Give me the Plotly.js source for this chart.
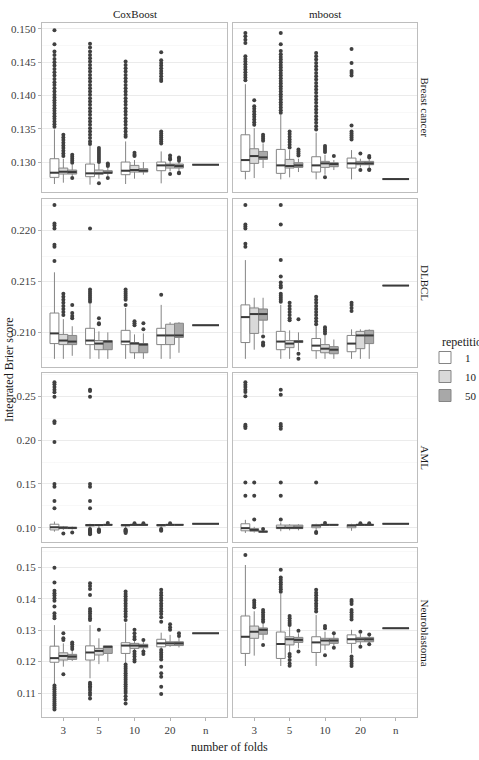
<!DOCTYPE html>
<html>
<head>
<meta charset="utf-8">
<script src="https://cdn.plot.ly/plotly-3.0.1.min.js"></script>
<style>html,body{margin:0;padding:0;background:#fff;}#chart{width:479px;height:760px;}</style>
</head>
<body>
<div id="chart"></div>
<script>
const categories = ['3', '5', '10', '20', 'n'];
const repetitions = ['1', '10', '50'];
const datasets = ['Breast cancer', 'DLBCL', 'AML', 'Neuroblastoma'];
const methods = ['CoxBoost', 'mboost'];

// Each row: [lower whisker, q1, median, q3, upper whisker]
// Order: 3/rep1, 3/rep10, 3/rep50, 5/rep1, ..., 20/rep50, n
const bcCoxStats = [
  [0.1267, 0.1277, 0.1284, 0.1305, 0.1349], [0.1269, 0.1282, 0.12855, 0.1291, 0.1305], [0.1279, 0.1282, 0.1285, 0.1288, 0.1296],
  [0.1266, 0.1278, 0.1283, 0.1297, 0.1324], [0.1275, 0.1282, 0.1283, 0.1288, 0.1297], [0.1279, 0.1283, 0.1284, 0.1287, 0.1291],
  [0.1267, 0.1281, 0.1287, 0.1300, 0.1331], [0.1275, 0.1285, 0.1288, 0.1295, 0.1303], [0.1281, 0.1285, 0.1287, 0.1290, 0.1300],
  [0.1268, 0.1287, 0.1295, 0.1300, 0.1316], [0.1286, 0.1291, 0.1295, 0.1297, 0.1301], [0.1286, 0.1291, 0.1294, 0.1297, 0.1300],
  [0.1296, 0.1296, 0.1296, 0.1296, 0.1296]
];
const bcCoxOut = [
  [0.1498, 0.1477, 0.1466, 0.1461, 0.1455, 0.1450, 0.1445, 0.1440, 0.1435, 0.1430, 0.1425, 0.1420, 0.1416, 0.1411, 0.1406, 0.1401, 0.1397, 0.1393, 0.1389, 0.1385, 0.1381, 0.1377, 0.1373, 0.1369, 0.1365, 0.1361, 0.1357, 0.1353],
  [0.1341, 0.1337, 0.1333, 0.1329, 0.1325, 0.1321, 0.1317, 0.1313, 0.1309],
  [0.1311, 0.1308, 0.1305, 0.1302, 0.1299, 0.1276],
  [0.1478, 0.1472, 0.1466, 0.1461, 0.1456, 0.1451, 0.1446, 0.1441, 0.1436, 0.1431, 0.1426, 0.1421, 0.1416, 0.1411, 0.1406, 0.1401, 0.1396, 0.1391, 0.1386, 0.1381, 0.1376, 0.1371, 0.1366, 0.1361, 0.1356, 0.1351, 0.1346, 0.1341, 0.1336, 0.1331, 0.1327],
  [0.1321, 0.1318, 0.1315, 0.1312, 0.1309, 0.1306, 0.1303, 0.1300, 0.1268],
  [0.1298, 0.1296, 0.1294, 0.1276],
  [0.1451, 0.1446, 0.1441, 0.1436, 0.1431, 0.1426, 0.1421, 0.1416, 0.1411, 0.1406, 0.1401, 0.1396, 0.1391, 0.1386, 0.1381, 0.1376, 0.1371, 0.1366, 0.1361, 0.1356, 0.1351, 0.1346, 0.1341, 0.1338],
  [0.1314, 0.1311, 0.1309],
  [],
  [0.1465, 0.1453, 0.1449, 0.1445, 0.1441, 0.1437, 0.1433, 0.1429, 0.1425, 0.1422, 0.1346, 0.1343, 0.1340, 0.1337, 0.1334, 0.1331, 0.1328],
  [0.1310, 0.1306, 0.1304, 0.1282],
  [0.1307, 0.1305, 0.1302, 0.1284, 0.1283],
  []
];

const bcMbStats = [
  [0.1274, 0.1286, 0.1303, 0.1341, 0.1417], [0.1276, 0.1298, 0.1309, 0.1320, 0.1351], [0.1291, 0.1304, 0.1307, 0.1316, 0.1328],
  [0.1274, 0.1283, 0.1295, 0.1319, 0.1371], [0.1277, 0.1291, 0.1294, 0.1304, 0.1318], [0.1285, 0.1292, 0.1295, 0.1299, 0.1305],
  [0.1274, 0.1285, 0.1295, 0.1308, 0.1344], [0.1281, 0.1292, 0.1298, 0.1301, 0.1311], [0.1288, 0.1293, 0.1297, 0.1299, 0.1303],
  [0.1274, 0.1291, 0.1298, 0.1306, 0.1318], [0.1292, 0.1296, 0.1298, 0.1301, 0.1305], [0.1291, 0.1296, 0.1298, 0.1301, 0.1304],
  [0.12744, 0.12744, 0.12744, 0.12744, 0.12744]
];
const bcMbOut = [
  [0.1494, 0.1489, 0.1484, 0.1479, 0.1459, 0.1455, 0.1451, 0.1447, 0.1443, 0.1439, 0.1435, 0.1431, 0.1427, 0.1423],
  [0.1393, 0.1384, 0.1380, 0.1376, 0.1372, 0.1368, 0.1364, 0.1360, 0.1356],
  [0.1341, 0.1338, 0.1335, 0.1332],
  [0.1494, 0.1477, 0.1467, 0.1462, 0.1458, 0.1454, 0.1450, 0.1446, 0.1442, 0.1438, 0.1434, 0.1430, 0.1426, 0.1422, 0.1418, 0.1414, 0.1410, 0.1406, 0.1402, 0.1398, 0.1394, 0.1390, 0.1386, 0.1382, 0.1378, 0.1374],
  [0.1346, 0.1342, 0.1338, 0.1334, 0.1330, 0.1326, 0.1322],
  [0.1319, 0.1316, 0.1313, 0.1310],
  [0.1464, 0.1459, 0.1454, 0.1449, 0.1444, 0.1439, 0.1434, 0.1429, 0.1424, 0.1419, 0.1414, 0.1409, 0.1404, 0.1399, 0.1394, 0.1389, 0.1384, 0.1379, 0.1374, 0.1369, 0.1364, 0.1359, 0.1354, 0.1349],
  [0.1324, 0.1321, 0.1318, 0.1315, 0.1277],
  [0.1309],
  [0.1470, 0.1449, 0.1437, 0.1434, 0.1430, 0.1355, 0.1346, 0.1343, 0.1340, 0.1337, 0.1334],
  [0.1313, 0.1288],
  [0.1309, 0.1307, 0.1289, 0.1288],
  []
];

const dlCoxStats = [
  [0.2074, 0.2089, 0.2099, 0.2119, 0.2159], [0.2074, 0.2088, 0.2092, 0.2098, 0.2113], [0.2077, 0.2088, 0.2091, 0.2097, 0.2106],
  [0.2074, 0.2088, 0.2092, 0.2104, 0.2128], [0.2074, 0.2083, 0.2089, 0.2092, 0.2101], [0.2074, 0.2083, 0.2091, 0.2092, 0.2100],
  [0.2074, 0.2088, 0.2091, 0.2102, 0.2124], [0.2074, 0.2080, 0.2089, 0.2090, 0.2098], [0.2074, 0.2080, 0.2088, 0.2089, 0.2099],
  [0.2074, 0.2088, 0.2097, 0.2104, 0.2127], [0.2074, 0.2088, 0.2097, 0.2108, 0.2110], [0.2080, 0.2095, 0.2097, 0.2109, 0.2110],
  [0.2107, 0.2107, 0.2107, 0.2107, 0.2107]
];
const dlCoxOut = [
  [0.2170, 0.2186, 0.2184, 0.2207, 0.2205, 0.2202, 0.2225],
  [0.2138, 0.2135, 0.2132, 0.2129, 0.2126, 0.2123, 0.2120, 0.2117],
  [0.2127, 0.2119, 0.2116, 0.2114],
  [0.2202, 0.2142, 0.2140, 0.2138, 0.2136, 0.2134, 0.2132, 0.2130],
  [0.2114, 0.2109, 0.2108],
  [],
  [0.2142, 0.2140, 0.2138, 0.2136, 0.2134, 0.2132, 0.2127],
  [0.2111, 0.2109, 0.2107],
  [0.2109, 0.2103],
  [0.2137],
  [],
  [],
  []
];

const dlMbStats = [
  [0.2074, 0.2090, 0.2115, 0.2127, 0.2171], [0.2083, 0.2099, 0.2118, 0.2124, 0.2134], [0.2099, 0.2112, 0.2118, 0.2123, 0.2134],
  [0.2074, 0.2083, 0.2091, 0.2101, 0.2127], [0.2074, 0.2085, 0.2089, 0.2092, 0.2102], [0.2082, 0.2090, 0.2091, 0.2092, 0.2100],
  [0.2074, 0.2082, 0.2087, 0.2094, 0.2106], [0.2074, 0.2080, 0.2084, 0.2088, 0.2097], [0.2074, 0.2079, 0.2083, 0.2086, 0.2093],
  [0.2074, 0.2081, 0.2089, 0.2097, 0.2103], [0.2074, 0.2084, 0.2097, 0.2101, 0.2103], [0.2074, 0.2089, 0.2097, 0.2102, 0.2103],
  [0.2146, 0.2146, 0.2146, 0.2146, 0.2146]
];
const dlMbOut = [
  [0.2187, 0.2184, 0.2206, 0.2204, 0.2202, 0.2225],
  [],
  [0.2096, 0.2090, 0.2088, 0.2087],
  [0.2138, 0.2136, 0.2134, 0.2132, 0.2130, 0.2149, 0.2146, 0.2144, 0.2155, 0.2171, 0.2206, 0.2225],
  [0.2129, 0.2126, 0.2123, 0.2120, 0.2117, 0.2114, 0.2112],
  [0.2113, 0.2079, 0.2074],
  [0.2135, 0.2132, 0.2129, 0.2126, 0.2123, 0.2120, 0.2117, 0.2114, 0.2111, 0.2108],
  [0.2105, 0.2103, 0.2101, 0.2099],
  [],
  [0.2129, 0.2127, 0.2124, 0.2121],
  [],
  [],
  []
];

const amlCoxStats = [
  [0.0955, 0.0975, 0.1005, 0.1040, 0.1070], [0.0975, 0.0990, 0.1000, 0.1010, 0.1020], [0.0980, 0.0990, 0.0998, 0.1005, 0.1012],
  [0.0995, 0.1020, 0.1030, 0.1036, 0.1045], [0.0990, 0.1025, 0.1030, 0.1035, 0.1040], [0.1025, 0.1030, 0.1033, 0.1036, 0.1040],
  [0.0990, 0.1020, 0.1030, 0.1036, 0.1042], [0.1025, 0.1030, 0.1033, 0.1036, 0.1040], [0.1025, 0.1030, 0.1033, 0.1036, 0.1040],
  [0.0995, 0.1020, 0.1030, 0.1036, 0.1042], [0.1025, 0.1030, 0.1033, 0.1036, 0.1040], [0.1025, 0.1030, 0.1033, 0.1036, 0.1040],
  [0.1045, 0.1045, 0.1045, 0.1045, 0.1045]
];
const amlCoxOut = [
  [0.2660, 0.2637, 0.2606, 0.2576, 0.2545, 0.2494, 0.2214, 0.2195, 0.1977, 0.1500, 0.1469, 0.1305, 0.1221],
  [0.0935],
  [0.0945],
  [0.2576, 0.2560, 0.2494, 0.1500, 0.1469, 0.1305, 0.1221, 0.0985, 0.0975, 0.0965, 0.0955, 0.0945, 0.0935, 0.0925],
  [0.0980, 0.0970, 0.0960, 0.0950],
  [0.1055],
  [0.0980, 0.0970, 0.0960, 0.0950, 0.0940],
  [0.1052],
  [0.1052],
  [0.0985, 0.0975, 0.0965],
  [0.1052],
  [],
  []
];

const amlMbStats = [
  [0.0940, 0.0965, 0.0995, 0.1045, 0.1090], [0.0945, 0.0960, 0.0975, 0.0990, 0.1010], [0.0945, 0.0950, 0.0955, 0.0962, 0.0975],
  [0.0960, 0.0990, 0.1000, 0.1030, 0.1060], [0.0970, 0.0990, 0.1000, 0.1030, 0.1040], [0.0970, 0.0990, 0.1000, 0.1030, 0.1040],
  [0.0960, 0.1000, 0.1025, 0.1035, 0.1045], [0.1025, 0.1030, 0.1033, 0.1036, 0.1040], [0.1025, 0.1030, 0.1033, 0.1036, 0.1040],
  [0.0965, 0.1000, 0.1025, 0.1035, 0.1045], [0.1025, 0.1030, 0.1033, 0.1036, 0.1040], [0.1025, 0.1030, 0.1033, 0.1036, 0.1040],
  [0.1045, 0.1045, 0.1045, 0.1045, 0.1045]
];
const amlMbOut = [
  [0.2660, 0.2633, 0.2607, 0.2576, 0.2550, 0.2500, 0.2176, 0.2157, 0.2138, 0.1515, 0.1366],
  [0.1515, 0.1366, 0.1095],
  [0.0985],
  [0.2576, 0.2519, 0.2183, 0.2157, 0.2130, 0.1515, 0.1366, 0.1095],
  [],
  [],
  [0.1515, 0.0950, 0.0940],
  [0.1055],
  [],
  [],
  [0.1052],
  [0.1052],
  []
];

const nbCoxStats = [
  [0.1128, 0.1198, 0.1211, 0.1249, 0.1316], [0.1184, 0.1205, 0.1218, 0.1228, 0.1258], [0.1202, 0.1207, 0.1216, 0.1223, 0.1237],
  [0.1147, 0.1205, 0.1229, 0.1250, 0.1316], [0.1192, 0.1221, 0.1234, 0.1242, 0.1274], [0.1200, 0.1226, 0.1247, 0.1250, 0.1250],
  [0.1194, 0.1226, 0.1251, 0.1260, 0.1324], [0.1236, 0.1242, 0.1251, 0.1258, 0.1265], [0.1236, 0.1244, 0.1250, 0.1255, 0.1262],
  [0.1242, 0.1247, 0.1258, 0.1271, 0.1292], [0.1247, 0.1251, 0.1258, 0.1263, 0.1285], [0.1245, 0.1251, 0.1258, 0.1263, 0.1275],
  [0.1290, 0.1290, 0.1290, 0.1290, 0.1290]
];
const nbCoxOut = [
  [0.1498, 0.1451, 0.1425, 0.1417, 0.1410, 0.1401, 0.1393, 0.1375, 0.1354, 0.1345, 0.1338, 0.1124, 0.1118, 0.1112, 0.1105, 0.1099, 0.1093, 0.1086, 0.1080, 0.1073, 0.1067, 0.1061, 0.1054, 0.1048],
  [0.1290, 0.1274, 0.1269, 0.1160],
  [0.1261, 0.1255, 0.1247, 0.1240],
  [0.1449, 0.1440, 0.1431, 0.1412, 0.1367, 0.1360, 0.1353, 0.1345, 0.1338, 0.1332, 0.1133, 0.1128, 0.1122, 0.1117, 0.1110, 0.1101, 0.1094, 0.1083],
  [0.1301],
  [],
  [0.1423, 0.1415, 0.1408, 0.1400, 0.1393, 0.1385, 0.1377, 0.1368, 0.1360, 0.1351, 0.1343, 0.1332, 0.1191, 0.1184, 0.1177, 0.1170, 0.1163, 0.1156, 0.1149, 0.1142, 0.1135, 0.1128, 0.1121, 0.1114, 0.1107, 0.1100, 0.1090, 0.1080, 0.1067],
  [0.1301, 0.1290, 0.1279, 0.1271, 0.1232, 0.1224, 0.1216, 0.1207, 0.1200],
  [0.1269, 0.1232, 0.1224],
  [0.1428, 0.1419, 0.1411, 0.1402, 0.1394, 0.1385, 0.1377, 0.1368, 0.1360, 0.1351, 0.1341, 0.1327, 0.1237, 0.1229, 0.1222, 0.1215, 0.1207, 0.1184, 0.1163, 0.1152, 0.1120, 0.1097],
  [0.1319, 0.1309, 0.1301],
  [0.1290, 0.1281],
  []
];

const nbMbStats = [
  [0.1186, 0.1226, 0.1279, 0.1345, 0.1507], [0.1219, 0.1274, 0.1295, 0.1313, 0.1360], [0.1269, 0.1287, 0.1301, 0.1307, 0.1322],
  [0.1186, 0.1210, 0.1256, 0.1294, 0.1415], [0.1228, 0.1253, 0.1271, 0.1279, 0.1311], [0.1242, 0.1261, 0.1269, 0.1277, 0.1290],
  [0.1186, 0.1229, 0.1261, 0.1279, 0.1348], [0.1237, 0.1253, 0.1267, 0.1274, 0.1295], [0.1247, 0.1258, 0.1267, 0.1274, 0.1285],
  [0.1226, 0.1258, 0.1271, 0.1285, 0.1301], [0.1253, 0.1263, 0.1271, 0.1277, 0.1288], [0.1258, 0.1263, 0.1271, 0.1277, 0.1281],
  [0.1306, 0.1306, 0.1306, 0.1306, 0.1306]
];
const nbMbOut = [
  [0.1539],
  [0.1394, 0.1387, 0.1380, 0.1373],
  [0.1364, 0.1357, 0.1349, 0.1342, 0.1334, 0.1327, 0.1253],
  [0.1492, 0.1467, 0.1460, 0.1452, 0.1445, 0.1437, 0.1430, 0.1422],
  [0.1345, 0.1338, 0.1330, 0.1323, 0.1316, 0.1224, 0.1216, 0.1205, 0.1194, 0.1187],
  [0.1298, 0.1232],
  [0.1428, 0.1419, 0.1411, 0.1402, 0.1394, 0.1385, 0.1377, 0.1368, 0.1359],
  [0.1313, 0.1306, 0.1220],
  [0.1290, 0.1244],
  [0.1396, 0.1390, 0.1383, 0.1364, 0.1357, 0.1349, 0.1342, 0.1334, 0.1216, 0.1208, 0.1201, 0.1193, 0.1186],
  [0.1295, 0.1247],
  [0.1286, 0.1255],
  []
];

const panelStats = [[bcCoxStats, bcMbStats], [dlCoxStats, dlMbStats], [amlCoxStats, amlMbStats], [nbCoxStats, nbMbStats]];
const panelOut = [[bcCoxOut, bcMbOut], [dlCoxOut, dlMbOut], [amlCoxOut, amlMbOut], [nbCoxOut, nbMbOut]];

// Axis setup per facet row
const rowRanges = [[0.1255, 0.1509], [0.2066, 0.2231], [0.0837, 0.2766], [0.1024, 0.1561]];
const rowDtick = [0.005, 0.005, 0.05, 0.01];
const rowFormat = ['.3f', '.3f', '.2f', '.2f'];

const W = 479, H = 760;
const colPx = [[42, 227], [233, 417]];
const rowPx = [[23, 192], [199, 367], [373, 542], [548, 717]];

const FONT = 'Liberation Serif';
const fills = ['#ffffff', '#d9d9d9', '#a8a8a8'];
const boxLine = '#858585';
const darkCol = '#3a3a3a';
const GROUP_W = 0.75;
const nRep = repetitions.length;
const subW = GROUP_W / nRep;

const traces = [];
const layout = {
  width: W, height: H,
  margin: {l: 0, r: 0, t: 0, b: 0, autoexpand: false},
  paper_bgcolor: '#ffffff', plot_bgcolor: '#ffffff',
  boxmode: 'overlay',
  showlegend: true,
  font: {family: FONT, size: 10, color: '#333333'},
  legend: {
    x: 425 / W, y: 1 - 343 / H, xanchor: 'left', yanchor: 'top',
    font: {family: FONT, size: 11, color: '#1a1a1a'},
    bgcolor: 'rgba(0,0,0,0)', tracegroupgap: 0, itemwidth: 30
  },
  annotations: []
};

for (let r = 0; r < datasets.length; r++) {
  for (let c = 0; c < methods.length; c++) {
    const k = r * 2 + c + 1;
    const xa = 'x' + (k > 1 ? k : '');
    const ya = 'y' + (k > 1 ? k : '');
    const xKey = 'xaxis' + (k > 1 ? k : '');
    const yKey = 'yaxis' + (k > 1 ? k : '');
    const bottom = r === datasets.length - 1;
    const left = c === 0;
    layout[xKey] = {
      domain: [colPx[c][0] / W, colPx[c][1] / W], anchor: ya,
      range: [0.4, categories.length + 0.6],
      tickmode: 'array', tickvals: categories.map((_, i) => i + 1), ticktext: categories,
      showticklabels: bottom, ticks: bottom ? 'outside' : '', ticklen: 3, tickcolor: '#b3b3b3',
      tickfont: {family: FONT, size: 11, color: '#404040'},
      showgrid: false, zeroline: false,
      showline: true, mirror: true, linecolor: '#bdbdbd', linewidth: 1
    };
    layout[yKey] = {
      domain: [1 - rowPx[r][1] / H, 1 - rowPx[r][0] / H], anchor: xa,
      range: rowRanges[r], tick0: 0, dtick: rowDtick[r], tickformat: rowFormat[r],
      showticklabels: left, ticks: left ? 'outside' : '', ticklen: 3, tickcolor: '#b3b3b3',
      tickfont: {family: FONT, size: 11, color: '#404040'},
      showgrid: true, gridcolor: '#e6e6e6', gridwidth: 0.8,
      minor: {dtick: rowDtick[r] / 2, tick0: 0, showgrid: true, gridcolor: '#f3f3f3', gridwidth: 0.6},
      zeroline: false,
      showline: true, mirror: true, linecolor: '#bdbdbd', linewidth: 1
    };

    const stats = panelStats[r][c];
    const outs = panelOut[r][c];
    const medX = [], medY = [], outX = [], outY = [];

    for (let j = 0; j < nRep; j++) {
      const pos = [], lo = [], q1 = [], med = [], q3 = [], hi = [];
      for (let i = 0; i < categories.length - 1; i++) {
        const idx = i * nRep + j;
        const p = i + 1 + (j - (nRep - 1) / 2) * subW;
        const s = stats[idx];
        pos.push(p); lo.push(s[0]); q1.push(s[1]); med.push(s[2]); q3.push(s[3]); hi.push(s[4]);
        medX.push(p - subW / 2, p + subW / 2, null); medY.push(s[2], s[2], null);
        outs[idx].forEach(v => { outX.push(p); outY.push(v); });
      }
      traces.push({
        type: 'box', orientation: 'v', name: repetitions[j], legendgroup: repetitions[j],
        showlegend: k === 1, xaxis: xa, yaxis: ya,
        x: pos, lowerfence: lo, q1: q1, median: med, q3: q3, upperfence: hi,
        width: subW, whiskerwidth: 0, boxpoints: false,
        fillcolor: fills[j], line: {color: boxLine, width: 1},
        hoverinfo: 'skip'
      });
    }
    // LOOCV ("n") group: one box spanning full dodge width
    const nIdx = (categories.length - 1) * nRep;
    const sN = stats[nIdx];
    const pN = categories.length;
    traces.push({
      type: 'box', orientation: 'v', name: 'n', showlegend: false, xaxis: xa, yaxis: ya,
      x: [pN], lowerfence: [sN[0]], q1: [sN[1]], median: [sN[2]], q3: [sN[3]], upperfence: [sN[4]],
      width: GROUP_W, whiskerwidth: 0, boxpoints: false,
      fillcolor: fills[0], line: {color: boxLine, width: 1}, hoverinfo: 'skip'
    });
    medX.push(pN - GROUP_W / 2, pN + GROUP_W / 2, null); medY.push(sN[2], sN[2], null);
    outs[nIdx].forEach(v => { outX.push(pN); outY.push(v); });

    traces.push({
      type: 'scatter', mode: 'lines', x: medX, y: medY, xaxis: xa, yaxis: ya,
      line: {color: darkCol, width: 2}, showlegend: false, hoverinfo: 'skip'
    });
    traces.push({
      type: 'scatter', mode: 'markers', x: outX, y: outY, xaxis: xa, yaxis: ya,
      marker: {color: '#404040', size: 4}, showlegend: false, hoverinfo: 'skip'
    });
  }
}

// Strip labels
methods.forEach((m, c) => {
  layout.annotations.push({
    text: m, xref: 'paper', yref: 'paper',
    x: (colPx[c][0] + colPx[c][1]) / 2 / W, y: 1 - 14 / H,
    xanchor: 'center', yanchor: 'middle', showarrow: false,
    font: {family: FONT, size: 11, color: '#1a1a1a'}
  });
});
datasets.forEach((d, r) => {
  layout.annotations.push({
    text: d, xref: 'paper', yref: 'paper',
    x: 425 / W, y: 1 - (rowPx[r][0] + rowPx[r][1]) / 2 / H,
    xanchor: 'center', yanchor: 'middle', textangle: 90, showarrow: false,
    font: {family: FONT, size: 11, color: '#1a1a1a'}
  });
});
layout.annotations.push({
  text: 'repetitions', xref: 'paper', yref: 'paper',
  x: 440 / W, y: 1 - 342 / H, xanchor: 'left', yanchor: 'middle', showarrow: false,
  font: {family: FONT, size: 12, color: '#1a1a1a'}
});
layout.annotations.push({
  text: 'number of folds', xref: 'paper', yref: 'paper',
  x: (colPx[0][0] + colPx[1][1]) / 2 / W, y: 1 - 747 / H,
  xanchor: 'center', yanchor: 'middle', showarrow: false,
  font: {family: FONT, size: 12, color: '#1a1a1a'}
});
layout.annotations.push({
  text: 'Integrated Brier score', xref: 'paper', yref: 'paper',
  x: 9 / W, y: 1 - (rowPx[0][0] + rowPx[3][1]) / 2 / H,
  xanchor: 'center', yanchor: 'middle', textangle: -90, showarrow: false,
  font: {family: FONT, size: 12, color: '#1a1a1a'}
});

Plotly.newPlot('chart', traces, layout, {displayModeBar: false, staticPlot: true});
</script>
</body>
</html>
